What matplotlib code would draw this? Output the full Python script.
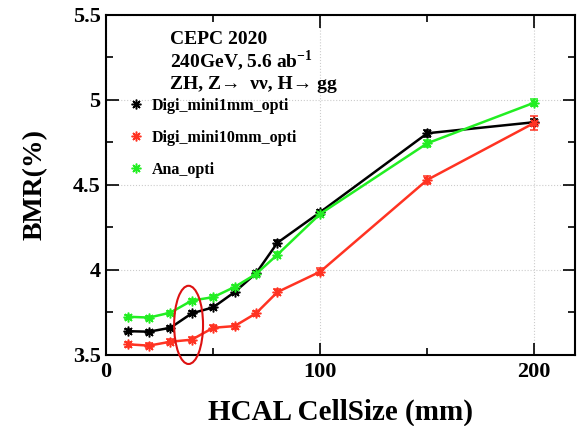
import matplotlib
matplotlib.use("Agg")
import matplotlib.pyplot as plt
from matplotlib.patches import Ellipse
from matplotlib.lines import Line2D
from matplotlib.ticker import MultipleLocator

cell_size = [10, 20, 30, 40, 50, 60, 70, 80, 100, 150, 200]
bmr_1mm = [3.64, 3.637, 3.66, 3.745, 3.78, 3.87, 3.98, 4.16, 4.34, 4.804, 4.869]
err_1mm = [0.012, 0.012, 0.012, 0.012, 0.012, 0.012, 0.012, 0.015, 0.015, 0.02, 0.02]
bmr_10mm = [3.563, 3.555, 3.578, 3.59, 3.66, 3.67, 3.745, 3.87, 3.99, 4.53, 4.865]
err_10mm = [0.015, 0.015, 0.015, 0.015, 0.015, 0.015, 0.015, 0.02, 0.02, 0.025, 0.04]
bmr_ana = [3.725, 3.72, 3.749, 3.82, 3.84, 3.90, 3.976, 4.09, 4.33, 4.745, 4.984]
err_ana = [0.012, 0.012, 0.012, 0.012, 0.012, 0.012, 0.012, 0.015, 0.015, 0.02, 0.02]

labels = ["Digi_mini1mm_opti", "Digi_mini10mm_opti", "Ana_opti"]
colors = ["black", "#ff3322", "#22ee22"]

plt.rcParams['font.family'] = ['Liberation Serif', 'DejaVu Serif']
plt.rcParams['font.weight'] = 'bold'
plt.rcParams['mathtext.fontset'] = 'custom'
plt.rcParams['mathtext.rm'] = 'Liberation Serif:bold'
plt.rcParams['mathtext.bf'] = 'Liberation Serif:bold'

fig = plt.figure(figsize=(5.77, 4.26), dpi=100)
ax = fig.add_axes([0.184, 0.1667, 0.8125, 0.7983])

asterisk = (8, 2, 0)
for y, e, c, lab in zip([bmr_1mm, bmr_10mm, bmr_ana], [err_1mm, err_10mm, err_ana], colors, labels):
    ax.errorbar(cell_size, y, yerr=e, color=c, lw=1.8, marker=asterisk, ms=7, mew=1.1,
                capsize=3, elinewidth=1.5)

ax.set_xlim(0, 219)
ax.set_ylim(3.5, 5.5)
ax.xaxis.set_major_locator(MultipleLocator(100))
ax.xaxis.set_minor_locator(MultipleLocator(50))
ax.yaxis.set_minor_locator(MultipleLocator(0.25))
ax.set_yticks([3.5, 4, 4.5, 5, 5.5])
ax.set_yticklabels(["3.5", "4", "4.5", "5", "5.5"])
ax.tick_params(which='both', direction='in', top=True, right=True, labelsize=16, width=1.2)
ax.tick_params(which='major', length=9)
ax.tick_params(which='minor', length=5)
ax.tick_params(axis='x', pad=5)
ax.tick_params(axis='y', pad=4)
for lbl in ax.get_xticklabels() + ax.get_yticklabels():
    lbl.set_fontweight('bold')
ax.grid(True, which='major', linestyle=':', color='#cccccc', lw=0.8)
for s in ax.spines.values():
    s.set_linewidth(1.5)

ax.set_xlabel("HCAL CellSize (mm)", fontsize=21, fontweight='bold', labelpad=12)
ax.set_ylabel("BMR(%)", fontsize=20, fontweight='bold', labelpad=18)

tx = (170 - 106) / 469
ax.text(tx, (355 - 40) / 340, "CEPC 2020", transform=ax.transAxes, fontsize=14, fontweight='bold', va='center')
ax.text(tx, (355 - 62) / 340, r"240GeV, 5.6 ab$^{\mathbf{-1}}$", transform=ax.transAxes, fontsize=14,
        fontweight='bold', va='center')
ax.text(tx, (355 - 85) / 340, "ZH, Z\u2192  \u03bd\u03bd, H\u2192 gg", transform=ax.transAxes, fontsize=14,
        fontweight='bold', va='center')

handles = [Line2D([], [], ls='none', marker=asterisk, ms=7, mew=1.1, color=c) for c in colors]
leg = ax.legend(handles, labels, loc='upper left', bbox_to_anchor=(0.036, (355 - 93) / 340),
                frameon=False, handlelength=1.0, labelspacing=1.0, handletextpad=0.5,
                borderaxespad=0.0, borderpad=0.3,
                prop={'weight': 'bold', 'size': 11.5})

ell = Ellipse((38.5, 3.677), width=13.5, height=0.46, fill=False, edgecolor='#dd1111', lw=1.5,
              clip_on=False, zorder=5)
ax.add_patch(ell)

fig.savefig("out.png", dpi=100)
